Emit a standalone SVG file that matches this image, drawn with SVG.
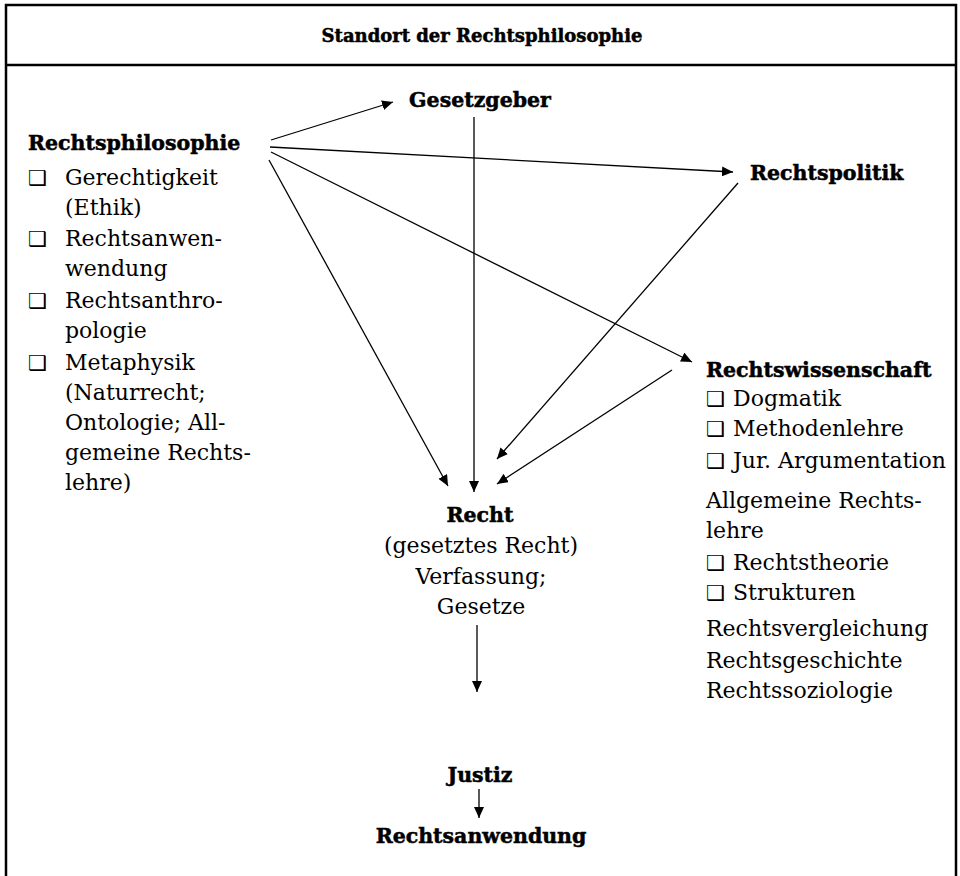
<svg xmlns="http://www.w3.org/2000/svg" width="960" height="876" viewBox="0 0 960 876">
<style>
.b{font-family:"DejaVu Serif","Liberation Serif",serif;font-weight:bold;font-size:20.5px;fill:#000;stroke:#000;stroke-width:0.5}
.t{font-size:18px}
.r{font-family:"DejaVu Serif","Liberation Serif",serif;font-size:22px;fill:#000}
.cb{font-family:"DejaVu Sans",sans-serif;font-size:21px;fill:#000}
.c{text-anchor:middle}
.ln{stroke:#000;stroke-width:1.3;fill:none;marker-end:url(#ah)}
.fr{stroke:#000;stroke-width:2.5;fill:none}
</style>
<defs>
<marker id="ah" markerUnits="userSpaceOnUse" markerWidth="12" markerHeight="10" refX="11" refY="5" orient="auto">
<path d="M0,0 L11,5 L0,10 z" fill="#000"/>
</marker>
</defs>
<rect width="960" height="876" fill="#fff"/>
<g id="frame">
<path class="fr" d="M6,880 V5 H956 V880"/>
<path class="fr" d="M6,65 H956"/>
</g>
<g id="title"><text class="b t c" x="482" y="42">Standort der Rechtsphilosophie</text></g>
<g id="rechtsphilosophie">
<text class="b" x="28" y="150">Rechtsphilosophie</text>
<text class="cb" x="28" y="185">❑</text><text class="r" x="65" y="185">Gerechtigkeit</text>
<text class="r" x="65" y="215">(Ethik)</text>
<text class="cb" x="28" y="246">❑</text><text class="r" x="65" y="246">Rechtsanwen-</text>
<text class="r" x="65" y="276">wendung</text>
<text class="cb" x="28" y="308">❑</text><text class="r" x="65" y="308">Rechtsanthro-</text>
<text class="r" x="65" y="338">pologie</text>
<text class="cb" x="28" y="370">❑</text><text class="r" x="65" y="370">Metaphysik</text>
<text class="r" x="65" y="400">(Naturrecht;</text>
<text class="r" x="65" y="430">Ontologie; All-</text>
<text class="r" x="65" y="460">gemeine Rechts-</text>
<text class="r" x="65" y="490">lehre)</text>
</g>
<g id="gesetzgeber"><text class="b c" x="480" y="107">Gesetzgeber</text></g>
<g id="rechtspolitik"><text class="b" x="750" y="180">Rechtspolitik</text></g>
<g id="rechtswissenschaft">
<text class="b" x="706" y="377">Rechtswissenschaft</text>
<text class="cb" x="706" y="406">❑</text><text class="r" x="733" y="406">Dogmatik</text>
<text class="cb" x="706" y="436">❑</text><text class="r" x="733" y="436">Methodenlehre</text>
<text class="cb" x="706" y="468">❑</text><text class="r" x="733" y="468">Jur. Argumentation</text>
<text class="r" x="706" y="508">Allgemeine Rechts-</text>
<text class="r" x="706" y="538">lehre</text>
<text class="cb" x="706" y="570">❑</text><text class="r" x="733" y="570">Rechtstheorie</text>
<text class="cb" x="706" y="600">❑</text><text class="r" x="733" y="600">Strukturen</text>
<text class="r" x="706" y="636">Rechtsvergleichung</text>
<text class="r" x="706" y="668">Rechtsgeschichte</text>
<text class="r" x="706" y="698">Rechtssoziologie</text>
</g>
<g id="recht">
<text class="b c" x="480" y="522">Recht</text>
<text class="r c" x="481" y="553">(gesetztes Recht)</text>
<text class="r c" x="481" y="584">Verfassung;</text>
<text class="r c" x="481" y="614">Gesetze</text>
</g>
<g id="justiz"><text class="b c" x="480" y="782">Justiz</text></g>
<g id="rechtsanwendung"><text class="b c" x="481" y="843">Rechtsanwendung</text></g>
<g id="connectors">
<line class="ln" x1="271" y1="140" x2="393" y2="102"/>
<line class="ln" x1="270" y1="147" x2="733" y2="172"/>
<line class="ln" x1="271" y1="152" x2="692" y2="362"/>
<line class="ln" x1="269" y1="160" x2="448" y2="486"/>
<line class="ln" x1="474" y1="117" x2="474" y2="492"/>
<line class="ln" x1="738" y1="183" x2="497" y2="459"/>
<line class="ln" x1="672" y1="370" x2="497" y2="484"/>
<line class="ln" x1="477" y1="625" x2="477" y2="692"/>
<line class="ln" x1="479" y1="789" x2="479" y2="818"/>
</g>
</svg>
